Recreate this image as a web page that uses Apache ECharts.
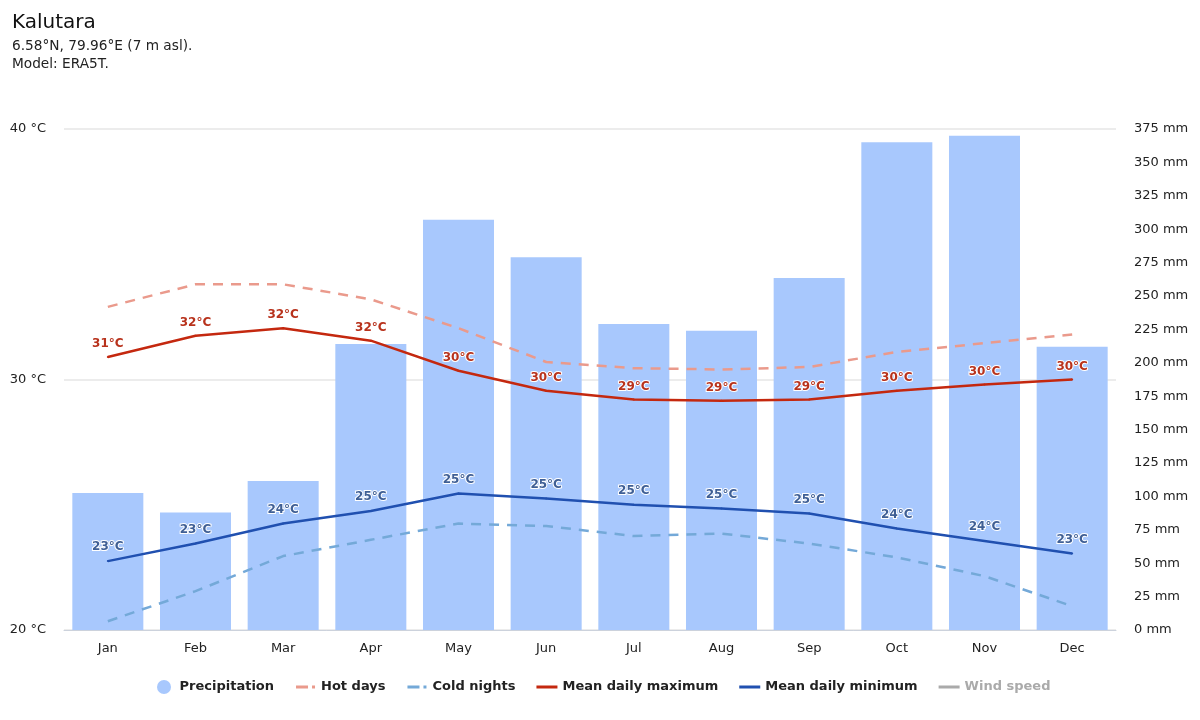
<!DOCTYPE html>
<html>
<head>
<meta charset="utf-8">
<style>html,body{margin:0;padding:0;background:#fff}#c{width:1200px;height:720px}</style>
<script src="https://cdn.jsdelivr.net/npm/echarts@6/dist/echarts.min.js"></script>
</head>
<body>
<div id="c"></div>
<script>
const months = ['Jan','Feb','Mar','Apr','May','Jun','Jul','Aug','Sep','Oct','Nov','Dec'];
const precipitation = [102.5,88,111.5,214,307,279,229,224,263.5,365,370,212];
const hotDays = [32.9,33.8,33.8,33.2,32.05,30.7,30.45,30.4,30.5,31.1,31.45,31.8];
const coldNights = [20.35,21.55,22.95,23.6,24.25,24.15,23.75,23.85,23.45,22.9,22.15,20.95];
const meanMax = [30.9,31.75,32.05,31.55,30.35,29.55,29.2,29.15,29.2,29.55,29.8,30.0];
const meanMin = [22.75,23.45,24.25,24.75,25.45,25.25,25.0,24.85,24.65,24.05,23.55,23.05];
const windSpeed = [];
const FONT = '"DejaVu Sans", sans-serif';
const ICON_SOLID = 'path://M0 0L0.01 0Z M21 14L20.99 14Z M0 5.5H21V8.5H0Z';
const ICON_DASH = 'path://M0 0L0.01 0Z M21 14L20.99 14Z M1 5.5H13V8.5H1Z M17 5.5H20V8.5H17Z';
const chart = echarts.init(document.getElementById('c'), null, {renderer:'canvas'});
function line(name,data,color,extra){
  return Object.assign({name,type:'line',yAxisIndex:0,data,symbol:'none',smooth:false,
    lineStyle:{color,width:2.5},itemStyle:{color},z:3},extra||{});
}
function labelled(labelColor,distance){
  return {symbol:'circle',symbolSize:2,showSymbol:true,showAllSymbol:true,z:4,
    label:{show:true,position:'top',distance:distance,color:labelColor,fontFamily:FONT,fontSize:12,fontWeight:'bold',
      textBorderColor:'#fff',textBorderWidth:2,formatter:p=>Math.round(p.value)+'°C'}};
}
chart.setOption({
  animation:false,
  backgroundColor:'#fff',
  title:[
    {text:'Kalutara',left:7,top:8,padding:5,textStyle:{fontFamily:FONT,fontSize:20,fontWeight:'normal',color:'#111'}},
    {text:'6.58°N, 79.96°E (7 m asl).\nModel: ERA5T.',left:7,top:32,padding:5,
     textStyle:{fontFamily:FONT,fontSize:13.7,fontWeight:'normal',color:'#222',lineHeight:18}}
  ],
  grid:{left:64,right:84,top:129,bottom:90},
  legend:{
    left:152,bottom:21,itemGap:21,itemWidth:21,itemHeight:14,
    textStyle:{fontFamily:FONT,fontSize:13,fontWeight:'bold',color:'#222',padding:[0,0,0,0]},
    itemStyle:{borderWidth:0},
    inactiveColor:'#aaa',inactiveBorderColor:'#aaa',
    data:[
      {name:'Precipitation',icon:'circle'},
      {name:'Hot days',icon:ICON_DASH},{name:'Cold nights',icon:ICON_DASH},
      {name:'Mean daily maximum',icon:ICON_SOLID},{name:'Mean daily minimum',icon:ICON_SOLID},
      {name:'Wind speed',icon:ICON_SOLID}
    ],
    selected:{'Wind speed':false}
  },
  xAxis:{type:'category',data:months,boundaryGap:true,
    axisLine:{lineStyle:{color:'#ccd2dc',width:1}},axisTick:{show:false},
    axisLabel:{fontFamily:FONT,fontSize:13,color:'#222',margin:12},splitLine:{show:false}},
  yAxis:[
    {type:'value',min:20,max:40,interval:10,position:'left',
     axisLabel:{fontFamily:FONT,fontSize:13,color:'#222',margin:18,padding:[5,0,0,0],formatter:'{value} °C'},
     axisLine:{show:false},axisTick:{show:false},splitLine:{lineStyle:{color:'#e6e6e6',width:1.5}}},
    {type:'value',min:0,max:375,interval:25,position:'right',
     axisLabel:{fontFamily:FONT,fontSize:13,color:'#222',margin:18,padding:[5,0,0,0],formatter:'{value} mm'},
     axisLine:{show:false},axisTick:{show:false},splitLine:{show:false}}
  ],
  series:[
    {name:'Precipitation',type:'bar',yAxisIndex:1,data:precipitation,barCategoryGap:'19%',
     itemStyle:{color:'#a8c8fd'},z:1},
    line('Hot days',hotDays,'#ea9a8c',{lineStyle:{color:'#ea9a8c',width:2.5,type:[10,8]}}),
    line('Cold nights',coldNights,'#74a9d8',{lineStyle:{color:'#74a9d8',width:2.5,type:[10,8]}}),
    line('Mean daily maximum',meanMax,'#c4280f',labelled('#b8321c',6)),
    line('Mean daily minimum',meanMin,'#2050b0',labelled('#3f5f95',7)),
    line('Wind speed',windSpeed,'#aaaaaa')
  ]
});
</script>
</body>
</html>
